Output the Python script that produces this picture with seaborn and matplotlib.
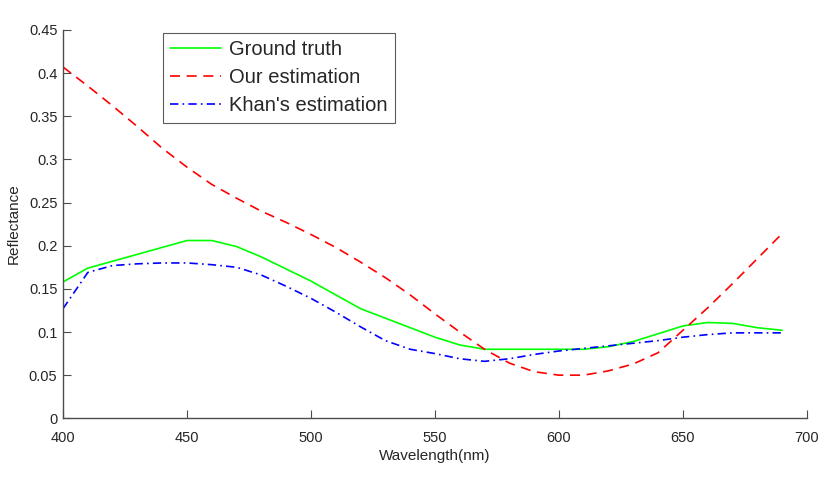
import numpy as np
import pandas as pd
import seaborn as sns
import matplotlib
matplotlib.use("Agg")
import matplotlib.pyplot as plt

wavelength = list(range(400, 700, 10))
ground_truth = [0.158, 0.174, 0.182, 0.190, 0.198, 0.206, 0.206, 0.199, 0.187, 0.173,
                0.159, 0.143, 0.127, 0.116, 0.105, 0.094, 0.085, 0.080, 0.080, 0.080,
                0.080, 0.080, 0.083, 0.089, 0.098, 0.107, 0.111, 0.110, 0.105, 0.102]
our_estimation = [0.407, 0.385, 0.362, 0.338, 0.313, 0.291, 0.271, 0.255, 0.240, 0.227,
                  0.213, 0.198, 0.181, 0.163, 0.143, 0.121, 0.100, 0.080, 0.064, 0.054,
                  0.050, 0.050, 0.055, 0.063, 0.076, 0.102, 0.128, 0.156, 0.185, 0.214]
khan_estimation = [0.127, 0.169, 0.177, 0.179, 0.180, 0.180, 0.178, 0.175, 0.166, 0.153,
                   0.139, 0.123, 0.106, 0.090, 0.080, 0.075, 0.069, 0.066, 0.069, 0.074,
                   0.078, 0.081, 0.084, 0.087, 0.090, 0.094, 0.097, 0.099, 0.099, 0.099]
series_names = ["Ground truth", "Our estimation", "Khan's estimation"]
x_ticks = [400, 450, 500, 550, 600, 650, 700]
y_ticks = [0, 0.05, 0.1, 0.15, 0.2, 0.25, 0.3, 0.35, 0.4, 0.45]
y_tick_labels = ["0", "0.05", "0.1", "0.15", "0.2", "0.25", "0.3", "0.35", "0.4", "0.45"]

sns.set_style("white")
plt.rcParams['font.family'] = ['Liberation Sans', 'DejaVu Sans']

fig = plt.figure(figsize=(8.31, 4.93), dpi=100)
ax = fig.add_axes([0.0758, 0.1515, 0.8952, 0.7878])

styles = [("#00ff00", "-"), ("#ff0000", (0, (6, 4))), ("#0000ff", (0, (5, 2.5, 1, 2.5)))]
for name, vals, (c, ls) in zip(series_names, [ground_truth, our_estimation, khan_estimation], styles):
    sns.lineplot(x=wavelength, y=vals, ax=ax, color=c, linestyle=ls, linewidth=1.2, label=name)

ax.set_xlim(400, 700)
ax.set_ylim(0, 0.45)
ax.set_xticks(x_ticks)
ax.set_xticklabels([str(t) for t in x_ticks])
ax.set_yticks(y_ticks)
ax.set_yticklabels(y_tick_labels)
spc = "#4d4d4d"
for s in ["top", "right"]:
    ax.spines[s].set_visible(False)
for s in ["left", "bottom"]:
    ax.spines[s].set_color(spc)
    ax.spines[s].set_linewidth(1.0)
ax.tick_params(direction="in", length=6, width=0.8, colors=spc, labelcolor="#262626",
               labelsize=10.5, left=True, bottom=True)
ax.tick_params(axis="x", pad=9)
ax.tick_params(axis="y", pad=4)
ax.set_xlabel("Wavelength(nm)", fontsize=11, color="#262626", labelpad=3)
ax.set_ylabel("Reflectance", fontsize=11, color="#262626", labelpad=6)

leg = ax.legend(loc="upper left", bbox_to_anchor=(0.134, 0.993), borderaxespad=0,
                fontsize=14.5, frameon=True, fancybox=False, handlelength=2.5,
                handletextpad=0.4, labelspacing=0.45, borderpad=0.38)
leg.get_frame().set_edgecolor("#333333")
leg.get_frame().set_linewidth(0.8)

fig.savefig("out.png", dpi=100)
